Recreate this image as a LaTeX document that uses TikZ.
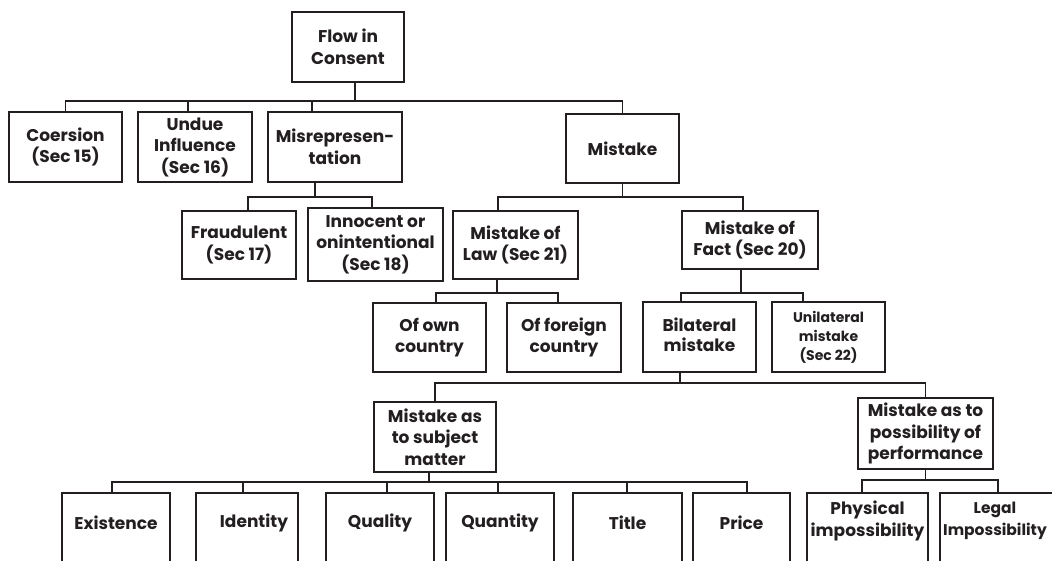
\documentclass[tikz,border=0pt]{standalone}
\usepackage{fontspec}
\setmainfont{Poppins}
\definecolor{ink}{HTML}{231F20}
\begin{document}
\begin{tikzpicture}[x=1pt,y=1pt,
  box/.style={draw=ink, line width=2pt, text=ink, align=center, inner sep=0pt,
    font=\bfseries\fontsize{17}{21.5}\selectfont},
  small/.style={font=\bfseries\fontsize{14}{19}\selectfont},
  lbl/.style={text=ink, align=center, inner sep=0pt, font=\bfseries\fontsize{17}{22}\selectfont},
  conn/.style={draw=ink, line width=1.9pt}]
\useasboundingbox (0,0) rectangle (1052,-561);
\clip (0,0) rectangle (1052,-561);
% level 0
\node[box, minimum width=112pt, minimum height=70pt] (flow) at (348,-47) {Flow in\\Consent};
% level 1
\node[box, minimum width=113pt, minimum height=70pt] (coer) at (65.5,-147) {Coersion\\(Sec 15)};
\node[box, minimum width=114pt, minimum height=70pt] (undue) at (195,-147) {Undue\\Influence\\(Sec 16)};
\node[box, minimum width=134pt, minimum height=70pt] (misrep) at (335,-147) {Misrepresen-\\tation};
\node[box, minimum width=113pt, minimum height=69pt] (mistake) at (622.5,-148.5) {Mistake};
% level 2
\node[box, minimum width=114pt, minimum height=68pt] (fraud) at (239,-245) {Fraudulent\\(Sec 17)};
\node[box, minimum width=135pt, minimum height=73pt] (innoc) at (375.5,-244.5) {Innocent or\\onintentional\\(Sec 18)};
\node[box, minimum width=125pt, minimum height=68pt] (law) at (515.5,-245) {Mistake of\\Law (Sec 21)};
\node[box, minimum width=136pt, minimum height=58pt] (fact) at (750,-240) {Mistake of\\Fact (Sec 20)};
% level 3
\node[box, minimum width=113pt, minimum height=69pt] (own) at (429.5,-337.5) {Of own\\country};
\node[box, minimum width=114pt, minimum height=69pt] (foreign) at (564,-337.5) {Of foreign\\country};
\node[box, minimum width=113pt, minimum height=70pt] (bilat) at (699.5,-337) {\raisebox{6pt}{\begin{tabular}{@{}c@{}}Bilateral\\[-1pt]mistake\end{tabular}}};
\node[box, small, minimum width=113pt, minimum height=70pt] (unilat) at (828.5,-337) {Unilateral\\mistake\\(Sec 22)};
% level 4
\node[box, minimum width=122pt, minimum height=70pt] (subj) at (435,-437) {Mistake as\\to subject\\matter};
\node[box, minimum width=135pt, minimum height=71pt] (perf) at (925.5,-433.5) {Mistake as to\\possibility of\\performance};
% level 5 (boxes run off the bottom edge)
\node[box, anchor=north, minimum width=108pt, minimum height=90pt] (exist) at (116,-492) {};
\node[box, anchor=north, minimum width=102pt, minimum height=90pt] (ident) at (247,-492) {};
\node[box, anchor=north, minimum width=108pt, minimum height=90pt] (qual) at (380,-492) {};
\node[box, anchor=north, minimum width=108pt, minimum height=90pt] (quant) at (500,-492) {};
\node[box, anchor=north, minimum width=109pt, minimum height=90pt] (title) at (627.5,-492) {};
\node[box, anchor=north, minimum width=97pt, minimum height=90pt] (price) at (741.5,-492) {};
\node[box, anchor=north, minimum width=121pt, minimum height=90pt] (phys) at (867.5,-492) {};
\node[box, anchor=north, minimum width=120pt, minimum height=90pt] (legal) at (1000,-492) {};
\node[lbl] (texist) at ([yshift=-31pt]exist.north) {Existence};
\node[lbl] (tident) at ([xshift=7pt,yshift=-31pt]ident.north) {Identity};
\node[lbl] (tqual) at ([yshift=-31pt]qual.north) {Quality};
\node[lbl] (tquant) at ([yshift=-31pt]quant.north) {Quantity};
\node[lbl] (ttitle) at ([yshift=-31pt]title.north) {Title};
\node[lbl] (tprice) at ([yshift=-31pt]price.north) {Price};
\node[lbl] (tphys) at ([yshift=-29pt]phys.north) {Physical\\impossibility};
\node[lbl, font=\bfseries\fontsize{15.5}{22}\selectfont] (tlegal) at ([xshift=-5pt,yshift=-29pt]legal.north) {Legal\\Impossibility};
% connectors
\draw[conn] (flow.south -| 355,0) -- (355,-101);
\draw[conn] (coer.north) |- (mistake.north |- 0,-101) -- (mistake.north);
\draw[conn] (undue.north -| 188,0) -- (188,-101);
\draw[conn] (misrep.north -| 312,0) -- (312,-101);

\draw[conn] (misrep.south -| 315,0) -- (315,-197);
\draw[conn] (fraud.north -| 248,0) -- (248,-197) -- (372,-197) -- (innoc.north -| 372,0);

\draw[conn] (mistake.south) -- (mistake.south |- 0,-197);
\draw[conn] (law.north -| 498,0) -- (498,-197) -- (743,-197) -- (fact.north -| 743,0);

\draw[conn] (law.south -| 497,0) -- (497,-293);
\draw[conn] (own.north -| 436,0) -- (436,-293) -- (558,-293) -- (foreign.north -| 558,0);

\draw[conn] (fact.south -| 741,0) -- (741,-293);
\draw[conn] (bilat.north -| 681,0) -- (681,-293) -- (803,-293) -- (unilat.north -| 803,0);

\draw[conn] (bilat.south -| 680,0) -- (680,-383);
\draw[conn] (subj.north) -- (subj.north |- 0,-383) -- (perf.north |- 0,-383) -- (perf.north);

\draw[conn] (subj.south -| 429,0) -- (429,-482);
\draw[conn] (exist.north -| 112,0) -- (112,-482) -- (747,-482) -- (price.north -| 747,0);
\draw[conn] (ident.north -| 243,0) -- (243,-482);
\draw[conn] (qual.north -| 387,0) -- (387,-482);
\draw[conn] (quant.north -| 498,0) -- (498,-482);
\draw[conn] (title.north -| 627,0) -- (627,-482);

\draw[conn] (perf.south) -- (perf.south |- 0,-480);
\draw[conn] (phys.north -| 862,0) -- (862,-480) -- (998,-480) -- (legal.north -| 998,0);
\end{tikzpicture}
\end{document}
